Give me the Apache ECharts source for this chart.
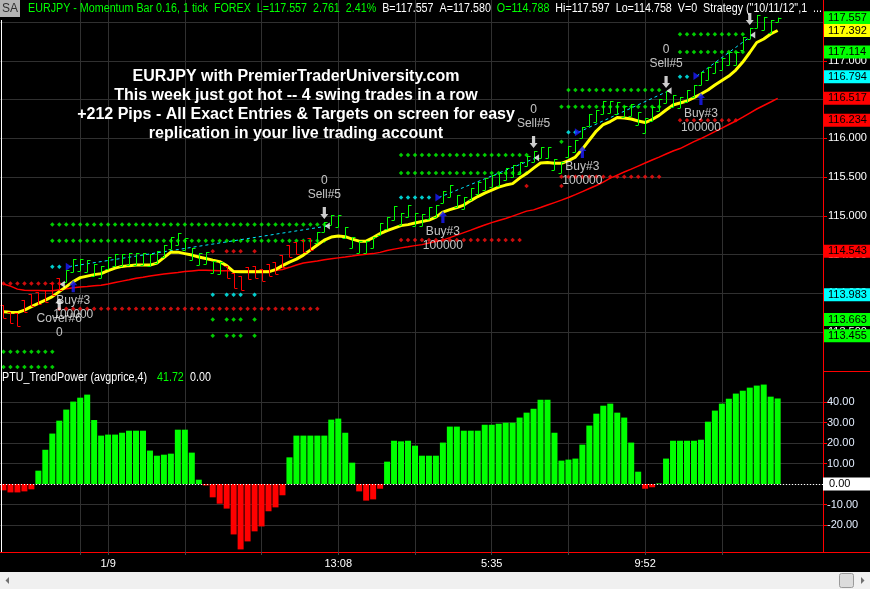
<!DOCTYPE html>
<html><head><meta charset="utf-8">
<script src="https://cdn.jsdelivr.net/npm/echarts@6/dist/echarts.min.js"></script>
<style>html,body{margin:0;padding:0;background:#000;overflow:hidden}#c{width:870px;height:589px}</style>
</head><body><div id="c"></div>
<script>
// ---------- DATA ----------
const opens = [113.850,113.759,113.746,113.914,113.992,114.017,114.043,114.133,114.198,
114.146,114.275,114.288,114.275,114.224,114.198,114.314,114.353,114.353,114.366,114.366,114.366,114.353,114.392,114.469,114.572,114.624,114.559,114.430,114.366,114.379,114.262,114.250,
114.353,114.262,114.224,114.340,114.353,114.314,114.379,114.404,114.495,114.624,114.662,114.688,114.714,
114.650,114.792,114.882,114.856,114.714,114.585,114.521,114.521,114.585,114.753,114.830,114.946,114.882,114.985,114.869,114.869,114.959,114.985,115.166,115.243,115.114,115.088,115.204,115.282,115.333,115.372,115.385,115.462,115.501,115.540,115.643,115.695,115.746,115.746,115.592,115.553,115.759,115.824,116.004,116.159,116.211,116.314,116.327,116.314,116.275,116.288,116.172,116.069,116.224,116.353,116.456,116.404,116.392,116.469,116.533,116.688,116.753,116.843,116.882,116.946,116.946,117.140,117.282,117.424,117.398,117.359,117.501];
const closes = [113.682,113.617,113.579,113.759,113.837,113.862,113.888,113.979,114.043,
114.301,114.443,114.443,114.430,114.379,114.353,114.469,114.508,114.508,114.521,114.521,114.521,114.508,114.546,114.624,114.727,114.779,114.714,114.585,114.521,114.533,114.417,114.404,
114.198,114.069,114.043,114.185,114.198,114.159,114.224,114.250,114.340,114.469,114.508,114.533,114.559,
114.792,114.921,115.011,115.011,114.856,114.727,114.675,114.675,114.727,114.908,114.985,115.127,115.037,115.140,115.037,115.024,115.114,115.140,115.321,115.398,115.269,115.243,115.359,115.437,115.488,115.527,115.553,115.617,115.656,115.695,115.772,115.837,115.888,115.888,115.733,115.695,115.901,115.979,116.146,116.314,116.366,116.482,116.482,116.469,116.417,116.443,116.340,116.262,116.404,116.508,116.611,116.559,116.533,116.624,116.688,116.856,116.921,116.985,117.037,117.114,117.114,117.308,117.424,117.592,117.566,117.527,117.557];
const fastAvg = [113.763,113.757,113.753,113.785,113.830,113.872,113.914,113.959,114.024,114.088,114.153,114.204,114.224,114.243,114.256,114.295,114.327,114.349,114.359,114.366,114.366,114.366,114.392,114.462,114.533,114.533,114.514,114.495,114.471,114.450,114.430,114.411,114.359,114.282,114.279,114.279,114.279,114.279,114.279,114.308,114.359,114.404,114.443,114.495,114.559,114.624,114.688,114.727,114.740,114.733,114.701,114.675,114.675,114.720,114.772,114.811,114.843,114.875,114.888,114.908,114.927,114.946,114.985,115.050,115.082,115.108,115.140,115.198,115.250,115.295,115.333,115.372,115.398,115.417,115.488,115.546,115.617,115.682,115.688,115.678,115.678,115.714,115.759,115.862,115.979,116.095,116.179,116.217,116.269,116.262,116.250,116.224,116.204,116.243,116.297,116.366,116.430,116.456,116.482,116.527,116.572,116.624,116.688,116.746,116.804,116.882,116.985,117.108,117.237,117.282,117.346,117.392];
const slowAvg = [114.123,114.095,114.056,114.042,114.039,114.038,114.035,114.034,114.048,114.061,114.074,114.083,114.090,114.099,114.106,114.123,114.141,114.159,114.177,114.197,114.210,114.224,114.237,114.250,114.262,114.271,114.282,114.291,114.299,114.300,114.297,114.292,114.292,114.292,114.292,114.292,114.292,114.292,114.292,114.297,114.308,114.337,114.368,114.393,114.407,114.420,114.435,114.447,114.459,114.470,114.482,114.495,114.506,114.514,114.530,114.553,114.572,114.588,114.602,114.617,114.630,114.650,114.669,114.688,114.720,114.753,114.785,114.817,114.850,114.882,114.914,114.940,114.966,114.998,115.030,115.062,115.078,115.108,115.140,115.172,115.204,115.237,115.275,115.314,115.353,115.392,115.437,115.488,115.527,115.566,115.604,115.643,115.682,115.721,115.759,115.798,115.837,115.869,115.914,115.959,115.998,116.043,116.088,116.133,116.179,116.224,116.275,116.327,116.379,116.424,116.469,116.517];
const trendPower = [-3.1,-4.1,-4.1,-3.6,-2.6,6.5,16.7,24.6,30.9,36.3,40.2,42.1,43.6,31.2,23.6,24.1,24.1,25.0,26.0,26.0,26.0,16.3,13.8,14.3,14.8,26.5,26.5,15.3,2.1,-0.7,-6.5,-9.6,-12.0,-24.6,-31.9,-28.0,-23.1,-20.7,-13.3,-11.4,-5.5,13.0,23.6,23.6,23.6,23.6,23.6,31.4,31.9,25.0,10.4,-3.6,-8.1,-7.5,-2.3,10.9,21.1,20.8,21.1,18.7,13.8,13.8,13.8,20.2,28.0,28.0,26.0,26.0,26.0,28.9,28.9,29.4,29.9,29.9,32.4,34.8,36.7,41.1,41.1,25.0,11.4,11.9,12.4,19.2,28.5,34.3,38.2,39.2,34.8,32.4,20.2,6.0,-2.3,-1.6,0.3,12.4,21.1,21.1,21.1,21.1,21.6,30.4,35.8,39.2,41.6,44.1,45.5,47.0,48.0,48.5,42.6,41.72];

// dotted target / stop levels: [firstBar, lastBar, price]
const greenLevels = [[0,7,113.247],[0,7,113.053],[7,46,114.891],[7,46,114.679],
  [30,30,113.663],[32,34,113.663],[36,36,113.663],[30,30,113.455],[32,34,113.455],[36,36,113.455],
  [57,75,115.785],[57,75,115.553],[80,80,115.957],[81,94,116.624],[80,94,116.408],[97,106,117.342],[97,106,117.114]];
const redLevels = [[0,8,114.127],[8,45,113.804],[30,30,114.543],[32,34,114.543],[36,36,114.543],
  [57,74,114.688],[75,75,115.385],[80,80,115.385],[80,94,115.505],[97,105,116.234]];
const cyanLevels = [[7,8,114.346],[30,30,113.983],[32,34,113.983],[36,36,113.983],[57,61,115.237],[81,82,116.078],[97,98,116.794]];

// trades
const entryBars = [10, 63, 83, 100];
const entryPrices = [114.346, 115.237, 116.078, 116.804];
const exitBars = [46, 76, 95, 107];
const exitPrices = [114.869, 115.750, 116.615, 117.333];
const coverBar = 8, coverPrice = 114.120;

// right axis tags
const priceTags = [117.557, 117.392, 117.114, 116.794, 116.517, 116.234, 114.543, 113.983, 113.663, 113.455];
const priceTagColors = ['#00ff00','#ffff00','#00ff00','#00ffff','#ff0000','#ff0000','#ff0000','#00ffff','#00ff00','#00ff00'];
const priceTicks = [113.5,114,114.5,115,115.5,116,116.5,117,117.5];
const powerTicks = [-20,-10,0,10,20,30,40];
const powerLabels = [-20,-10,10,20,30,40];
const gridBars = [11,15,26,37,48,59,70,81,92,103];
const timeLabelBars = [15,48,70,92];
const timeLabels = ['1/9','13:08','5:35','9:52'];

// ---------- CHART ----------
const SF = '"Liberation Sans",Arial,sans-serif';
const GRID = '#303030';
const chart = echarts.init(document.getElementById('c'), null, {renderer:'canvas', width:870, height:589});

const ctx = document.createElement('canvas').getContext('2d');
const measure = (text, font) => { ctx.font = font; return ctx.measureText(text).width; };

const expand = levels => { const out=[]; levels.forEach(([s,e,p])=>{ for(let i=s;i<=e;i++) out.push([i,p]); }); return out; };
const lowOf = i => Math.min(opens[i], closes[i]);
const highOf = i => Math.max(opens[i], closes[i]);
const ARROW_UP = 'path://M5,0 L10,5 L7,5 L7,12 L3,12 L3,5 L0,5 Z';
const ARROW_DN = 'path://M3,0 L7,0 L7,7 L10,7 L5,12 L0,7 L3,7 Z';
const TRI_R = 'path://M0,0 L10,6 L0,12 Z';
const TRI_L = 'path://M10,0 L0,6 L10,12 Z';

const textSeries = (data, fmt, offset) => ({
  type:'scatter', xAxisIndex:0, yAxisIndex:0, z:20, symbol:'circle', symbolSize:1,
  itemStyle:{color:'rgba(0,0,0,0)'}, data,
  label:{show:true, position:'inside', offset, formatter:fmt, color:'#f2f2f2', fontFamily:SF, fontSize:12, lineHeight:14}
});

const series = [
  { type:'bar', xAxisIndex:1, yAxisIndex:1, barWidth:6, z:3,
    data: trendPower.map((v,i)=>[i,v]),
    itemStyle:{ color: p => p.value[1] >= 0 ? '#00ff00' : '#ff0000' },
    markLine:{ silent:true, symbol:['none','none'], animation:false,
      lineStyle:{color:'#ffffff', type:[1,2], width:1},
      label:{show:true, position:'end', distance:0, formatter:'0.00', color:'#000', backgroundColor:'#ffffff',
        fontFamily:SF, fontSize:11, lineHeight:12, padding:[1,3,0,6], width:38, align:'left'},
      data:[{yAxis:0}] } },
  { type:'scatter', xAxisIndex:0, yAxisIndex:0, z:3, symbol:'diamond', symbolSize:4.5, itemStyle:{color:'#00ff00'}, data: expand(greenLevels) },
  { type:'scatter', xAxisIndex:0, yAxisIndex:0, z:3, symbol:'diamond', symbolSize:4.5, itemStyle:{color:'#ff1010'}, data: expand(redLevels) },
  { type:'scatter', xAxisIndex:0, yAxisIndex:0, z:3, symbol:'diamond', symbolSize:4.5, itemStyle:{color:'#00ffff'}, data: expand(cyanLevels) },
  { type:'line', xAxisIndex:0, yAxisIndex:0, z:4, symbol:'none', data: slowAvg.map((v,i)=>[i,v]),
    lineStyle:{color:'#ff0000', width:1.5},
    markLine:{ silent:true, symbol:['none','none'], animation:false, precision:3,
      lineStyle:{color:'rgba(0,0,0,0)', width:0},
      label:{show:true, position:'end', distance:1, formatter:p=>Number(p.value).toFixed(3), color:'#000',
        fontFamily:SF, fontSize:11, lineHeight:12, padding:[1,3,0,4], width:39, align:'left'},
      data: priceTags.map((v,k)=>({yAxis:v, label:{backgroundColor:priceTagColors[k]}})) } },
  ...entryBars.map((e,k)=>({ type:'line', xAxisIndex:0, yAxisIndex:0, z:5, symbol:'none',
    data:[[e-0.6, entryPrices[k]],[exitBars[k]+0.4, exitPrices[k]]],
    lineStyle:{color:'#00e8ff', width:1, type:[3,3]} })),
  { type:'line', xAxisIndex:0, yAxisIndex:0, z:6, symbol:'none', data: fastAvg.map((v,i)=>[i,v]),
    lineStyle:{color:'#ffff00', width:3} },
  { type:'custom', xAxisIndex:0, yAxisIndex:0, z:8,
    data: opens.map((o,i)=>[i,o,closes[i]]),
    encode:{x:0, y:[1,2]},
    renderItem:(params, api)=>{
      const x=api.value(0), o=api.value(1), c=api.value(2);
      const pO=api.coord([x,o]), pC=api.coord([x,c]);
      const col = c>=o ? '#00ff00' : '#ff0000';
      const cx = Math.round(pO[0])+0.5;
      return {type:'group', children:[
        {type:'line', shape:{x1:cx,y1:Math.min(pO[1],pC[1]),x2:cx,y2:Math.max(pO[1],pC[1])}, style:{stroke:col,lineWidth:1}},
        {type:'line', shape:{x1:cx-3,y1:Math.round(pO[1])+0.5,x2:cx,y2:Math.round(pO[1])+0.5}, style:{stroke:col,lineWidth:1}},
        {type:'line', shape:{x1:cx,y1:Math.round(pC[1])+0.5,x2:cx+3,y2:Math.round(pC[1])+0.5}, style:{stroke:col,lineWidth:1}}
      ]};
    } },
  { type:'scatter', xAxisIndex:0, yAxisIndex:0, z:12, symbol:TRI_R, symbolSize:[6,8], symbolOffset:[-4.5,0],
    itemStyle:{color:'#1c1cff'}, data: entryBars.map((e,k)=>[e, entryPrices[k]]) },
  { type:'scatter', xAxisIndex:0, yAxisIndex:0, z:12, symbol:ARROW_UP, symbolSize:[8,12], symbolOffset:[0,14],
    itemStyle:{color:'#1c1cff'}, data: entryBars.map(e=>[e, lowOf(e)]) },
  { type:'scatter', xAxisIndex:0, yAxisIndex:0, z:12, symbol:ARROW_DN, symbolSize:[8,12], symbolOffset:[0,-9],
    itemStyle:{color:'#ffffff'}, data: exitBars.map(e=>[e, highOf(e)]) },
  { type:'scatter', xAxisIndex:0, yAxisIndex:0, z:12, symbol:TRI_L, symbolSize:[5,7], symbolOffset:[3,0],
    itemStyle:{color:'#ffffff'}, data: exitBars.map((e,k)=>[e, exitPrices[k]]).concat([[coverBar, coverPrice]]) },
  { type:'scatter', xAxisIndex:0, yAxisIndex:0, z:12, symbol:ARROW_UP, symbolSize:[8,12], symbolOffset:[0,14],
    itemStyle:{color:'#ffffff'}, data: [[coverBar, lowOf(coverBar)]] },
  textSeries(entryBars.map(e=>[e, lowOf(e)]), 'Buy#3\n100000', [0,36]),
  textSeries(exitBars.slice(0,3).map(e=>[e, highOf(e)]), '0\nSell#5', [0,-34]),
  textSeries([[coverBar, lowOf(coverBar)]], 'Cover#6\n0', [0,36])
];

// header: one squeezed line fitted between x=28 and x=822
const HF = '12px "Liberation Sans"';
const hdrParts = [
  ['g','EURJPY - Momentum Bar 0.16, 1 tick  FOREX  L=117.557  2.761  2.41%  '],
  ['w','B=117.557  A=117.580  '],
  ['g','O=114.788'],
  ['w','  Hi=117.597  Lo=114.758  V=0  Strategy ("10/11/12",1  ...']
];
const hdrPlain = hdrParts.map(p=>p[1]).join('');
const hdrScale = 794 / measure(hdrPlain, HF);
const esc = s => s.replace(/[{}|]/g, '');
const hdrRich = hdrParts.map(p=>'{'+p[0]+'|'+esc(p[1])+'}').join('');

const T = (x, y, text, fill, font, align, sx) => ({type:'text', x, y, z:100, silent:true, scaleX: sx || 1,
  style:{text, fill, font: font || HF, textAlign: align || 'left', textVerticalAlign:'middle'}});
const BIG = 'bold 16px "Liberation Sans", Arial, sans-serif';

const option = {
  backgroundColor:'#000000',
  animation:false,
  grid:[{left:-2, top:0, width:825, height:371}, {left:-2, top:371, width:825, height:181}],
  xAxis:[
    {type:'value', gridIndex:0, min:-0.5, max:117.5,
      axisLine:{show:false, onZero:false}, axisTick:{show:false, customValues:gridBars}, axisLabel:{show:false},
      splitLine:{show:true, lineStyle:{color:GRID, width:1}}},
    {type:'value', gridIndex:1, min:-0.5, max:117.5,
      axisLine:{show:true, onZero:false, lineStyle:{color:'#ff0000', width:1}},
      axisTick:{show:true, customValues:gridBars, length:3, lineStyle:{color:'#444'}},
      axisLabel:{show:true, customValues:timeLabelBars, formatter:v=>timeLabels[timeLabelBars.indexOf(v)],
        color:'#ffffff', fontFamily:SF, fontSize:11, margin:6},
      splitLine:{show:true, lineStyle:{color:GRID, width:1}}}
  ],
  yAxis:[
    {type:'value', gridIndex:0, position:'right', min:113, max:117.785,
      axisLine:{show:true, onZero:false, lineStyle:{color:'#ff0000', width:1}},
      axisTick:{show:true, customValues:priceTicks, length:4, lineStyle:{color:'#ff0000'}},
      axisLabel:{customValues:priceTicks, formatter:v=>v.toFixed(3), color:'#ffffff', fontFamily:SF, fontSize:11, margin:5},
      splitLine:{show:true, lineStyle:{color:GRID, width:1}}},
    {type:'value', gridIndex:1, position:'right', min:-33.17, max:55.12,
      axisLine:{show:true, onZero:false, lineStyle:{color:'#ff0000', width:1}},
      axisTick:{show:true, customValues:powerTicks, length:4, lineStyle:{color:'#ff0000'}},
      axisLabel:{customValues:powerLabels, formatter:v=>v.toFixed(2), color:'#e4eeff', fontFamily:SF, fontSize:11, margin:4},
      splitLine:{show:true, lineStyle:{color:GRID, width:1}}}
  ],
  series,
  graphic:[
    {type:'line', z:90, silent:true, shape:{x1:1.5,y1:20,x2:1.5,y2:552}, style:{stroke:'#ffffff', lineWidth:1}},
    {type:'line', z:90, silent:true, shape:{x1:823,y1:371.5,x2:870,y2:371.5}, style:{stroke:'#ff0000', lineWidth:1}},
    {type:'line', z:90, silent:true, shape:{x1:823,y1:552.5,x2:870,y2:552.5}, style:{stroke:'#ff0000', lineWidth:1}},
    {type:'rect', z:90, silent:true, shape:{x:0,y:572,width:870,height:17}, style:{fill:'#f0f0f0'}},
    {type:'polygon', z:91, silent:true, shape:{points:[[9,577],[9,584],[5.5,580.5]]}, style:{fill:'#707070'}},
    {type:'rect', z:91, silent:true, shape:{x:839.5,y:573.5,width:14,height:14,r:2}, style:{fill:'#dcdcdc', stroke:'#9a9a9a', lineWidth:1}},
    {type:'polygon', z:91, silent:true, shape:{points:[[861,577],[861,584],[864.5,580.5]]}, style:{fill:'#707070'}},
    {type:'rect', z:95, silent:true, shape:{x:0,y:0,width:20,height:17}, style:{fill:'#b4b4b4'}},
    T(10, 9, 'SA', '#303030', null, 'center', 1),
    {type:'text', x:28, y:9, z:100, silent:true, scaleX:hdrScale,
      style:{text:hdrRich, font:HF, textAlign:'left', textVerticalAlign:'middle',
        rich:{g:{fill:'#00ff00', font:HF}, w:{fill:'#ffffff', font:HF}}}},
    T(296, 77, 'EURJPY with PremierTraderUniversity.com', '#ffffff', BIG, 'center', 1),
    T(296, 96, 'This week just got hot -- 4 swing trades in a row', '#ffffff', BIG, 'center', 1),
    T(296, 115, '+212 Pips - All Exact Entries & Targets on screen for easy', '#ffffff', BIG, 'center', 1),
    T(296, 134, 'replication in your live trading account', '#ffffff', BIG, 'center', 1),
    T(2, 378, 'PTU_TrendPower (avgprice,4)', '#ffffff', null, 'left', hdrScale),
    T(157, 378, '41.72', '#00ff00', null, 'left', hdrScale),
    T(190, 378, '0.00', '#ffffff', null, 'left', hdrScale)
  ]
};
chart.setOption(option);
</script>
</body></html>
